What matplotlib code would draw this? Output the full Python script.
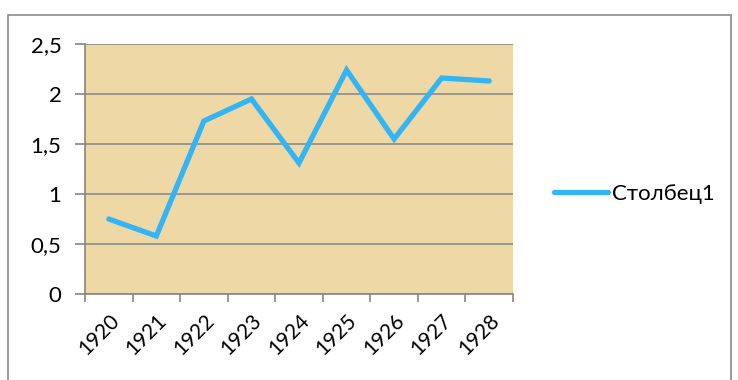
import matplotlib
matplotlib.use("Agg")
import matplotlib.pyplot as plt
from matplotlib.patches import Rectangle

years = ["1920", "1921", "1922", "1923", "1924", "1925", "1926", "1927", "1928"]
values = [0.75, 0.58, 1.73, 1.95, 1.31, 2.24, 1.55, 2.16, 2.13]
yticks = [0, 0.5, 1, 1.5, 2, 2.5]
ylabels = ["0", "0,5", "1", "1,5", "2", "2,5"]

plt.rcParams["font.family"] = ["Lato", "DejaVu Sans"]

fig = plt.figure(figsize=(7.38, 3.8), dpi=100)
fig.patches.append(Rectangle((8 / 738, -0.1), 723 / 738, 1 - 15 / 380 + 0.1,
                             transform=fig.transFigure, fill=False,
                             edgecolor="#8c8c8c", linewidth=1.2))

ax = fig.add_axes([85 / 738, 1 - 294 / 380, 428 / 738, 250 / 380])
ax.set_facecolor("#eed9a6")

x = list(range(len(years)))
ax.plot(x, values, color="#33b4f4", linewidth=3.8, solid_capstyle="round",
        solid_joinstyle="miter", label="Столбец1", zorder=3)

ax.set_xlim(-0.5, len(years) - 0.5)
ax.set_ylim(0, 2.5)
ax.set_yticks(yticks)
ax.set_yticklabels(ylabels, fontsize=16)
ax.set_xticks(x)
ax.set_xticklabels(years, fontsize=15, rotation=45, ha="right", va="top",
                   rotation_mode="anchor")
ax.set_xticks([i - 0.5 for i in range(len(years) + 1)], minor=True)
ax.tick_params(axis="x", which="major", length=0, pad=12)
ax.tick_params(axis="x", which="minor", length=6, color="#868686", width=1.2)
ax.tick_params(axis="y", length=7, color="#868686", width=1.2, pad=10)

ax.grid(axis="y", color="#8c8c8c", linewidth=1.2, zorder=1)
for s in ["top", "right"]:
    ax.spines[s].set_visible(False)
for s in ["left", "bottom"]:
    ax.spines[s].set_color("#868686")
    ax.spines[s].set_linewidth(1.2)

ax.legend(loc="center left", bbox_to_anchor=(1.05, 0.4), frameon=False,
          fontsize=16, handlelength=2.4, handletextpad=0.2)

fig.savefig("out.png", dpi=100)
